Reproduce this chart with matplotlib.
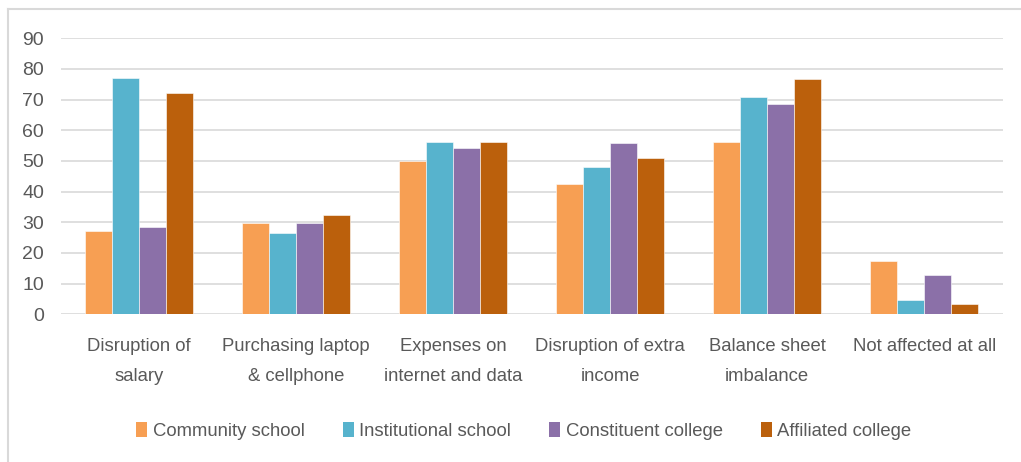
import numpy as np
import matplotlib.pyplot as plt
from matplotlib.lines import Line2D
from matplotlib.patches import Patch

categories = ['Disruption of\nsalary', 'Purchasing laptop\n& cellphone',
              'Expenses on\ninternet and data', 'Disruption of extra\nincome',
              'Balance sheet\nimbalance', 'Not affected at all']
series = ['Community school', 'Institutional school', 'Constituent college', 'Affiliated college']
community = [27.2, 29.8, 49.9, 42.4, 56.3, 17.5]
institutional = [77.0, 26.4, 56.3, 47.9, 70.8, 4.8]
constituent = [28.4, 29.8, 54.2, 56.0, 68.6, 12.7]
affiliated = [72.1, 32.3, 56.3, 50.9, 76.6, 3.5]
colors = ['#F79F53', '#57B3CD', '#8B70A8', '#BB600C']

plt.rcParams['font.family'] = ['Liberation Sans', 'DejaVu Sans']
grey = '#595959'

fig = plt.figure(figsize=(10.21, 4.62), dpi=100)
ax = fig.add_axes([0.0595, 0.3197, 0.9225, 0.5974])

x = np.arange(len(categories))
w = 0.172
for i, (vals, c) in enumerate(zip([community, institutional, constituent, affiliated], colors)):
    ax.bar(x + (i - 1.5) * w, vals, width=w, color=c, edgecolor='white', linewidth=0.4,
           label=series[i], zorder=3)

ax.set_xlim(-0.5, len(categories) - 0.5)
ax.set_ylim(0, 90)
ax.set_yticks(range(0, 91, 10))
ax.set_xticks(x)
ax.set_xticklabels(categories, fontsize=13.3, color=grey, linespacing=2.0)
ax.tick_params(axis='y', labelsize=14, labelcolor=grey, length=0, pad=12)
ax.tick_params(axis='x', length=0, pad=17)
ax.yaxis.grid(True, color='#D9D9D9', linewidth=1.2, zorder=0)
for s in ax.spines.values():
    s.set_visible(False)

# chart frame (left and top edges)
fig.add_artist(Line2D([8 / 1021, 8 / 1021], [0, 1 - 9 / 462], transform=fig.transFigure,
                      color='#D9D9D9', linewidth=1.5))
fig.add_artist(Line2D([8 / 1021, 1], [1 - 9 / 462, 1 - 9 / 462], transform=fig.transFigure,
                      color='#D9D9D9', linewidth=1.5))

handles = [Patch(facecolor=c) for c in colors]
fig.legend(handles, series, loc='center', bbox_to_anchor=(0.513, 0.068), ncol=4,
           frameon=False, fontsize=13.3, labelcolor=grey, handlelength=0.6, handleheight=0.9,
           handletextpad=0.3, columnspacing=2.05)

fig.savefig('out.png', dpi=100, facecolor='white')
